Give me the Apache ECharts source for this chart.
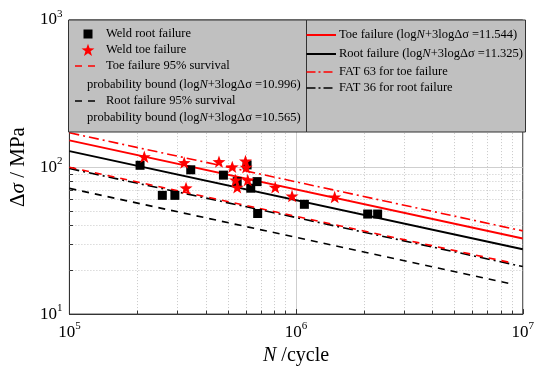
<!DOCTYPE html>
<html><head><meta charset="utf-8">
<script src="https://cdn.jsdelivr.net/npm/echarts@6/dist/echarts.min.js"></script>
<style>html,body{margin:0;padding:0;background:#fff}#c{width:537px;height:371px}</style>
</head><body><div id="c"></div>
<script>
// ---- data ----
const rootN = [205000, 257000, 292000, 343000, 478000, 550000, 608000, 631000, 673000, 677000, 1088000, 2070000, 2290000];
const rootS = [102.8, 64.2, 64.2, 95.8, 88.1, 79.6, 103.4, 71.8, 79.6, 48.3, 55.8, 47.9, 47.9];
const toeN = [214000, 321000, 327000, 457000, 523000, 598000, 602000, 541000, 550000, 612000, 809000, 960000, 1480000];
const toeS = [117.5, 107.2, 72.1, 108.8, 100.3, 110.0, 99.7, 81.6, 72.9, 81.6, 72.9, 63.5, 62.5];
// line end points [N, stress]
const toeMean = [[1e5, 151.8], [1e7, 32.7]];
const rootMean = [[1e5, 128.3], [1e7, 27.6]];
const toe95 = [[1e5, 99.7], [9e6, 22.25]];
const root95 = [[1e5, 71.6], [9e6, 15.98]];
const fat63 = [[1e5, 171.0], [1e7, 36.8]];
const fat36 = [[1e5, 97.7], [1e7, 21.05]];
const xMinor = [2e5,3e5,4e5,5e5,6e5,7e5,8e5,9e5,2e6,3e6,4e6,5e6,6e6,7e6,8e6,9e6];
const yMinor = [20,30,40,50,60,70,80,90,200,300,400,500,600,700,800,900];
const xTicks = [1e5, 1e6, 1e7];
const yTicks = [10, 100, 1000];
const legendLeft = ['Weld root failure', 'Weld toe failure', 'Toe failure 95% survival', 'probability bound (log{i|N}+3logΔσ =10.996)', 'Root failure 95% survival', 'probability bound (log{i|N}+3logΔσ =10.565)'];
const legendRight = ['Toe failure (log{i|N}+3logΔσ =11.544)', 'Root failure (log{i|N}+3logΔσ =11.325)', 'FAT 63 for toe failure', 'FAT 36 for root failure'];

const FF = 'Liberation Serif, Times New Roman, serif';
const starPts = [[0,-10],[2.35,-3.24],[9.51,-3.09],[3.8,1.24],[5.88,8.09],[0,4],[-5.88,8.09],[-3.8,1.24],[-9.51,-3.09],[-2.35,-3.24]];
const star = 'path://M' + starPts.map(p => p[0] + ',' + p[1]).join(' L') + ' Z';
const pair = (a, b) => a.map((v, i) => [v, b[i]]);

const gridLines = [].concat(
  xMinor.map(v => ({xAxis: v})),
  yMinor.map(v => ({yAxis: v}))
);
const minorTicks = [].concat(
  xMinor.map(v => [{coord: [v, 10]}, {coord: [v, 10.55]}]),
  yMinor.map(v => [{coord: [1e5, v]}, {coord: [1.037e5, v]}])
);
const supLabel = v => '{b|10}{s|' + Math.round(Math.log10(v)) + '}';
const labelRich = {
  b: {fontFamily: FF, fontSize: 17, color: '#000'},
  s: {fontFamily: FF, fontSize: 11, color: '#000', padding: [0, 0, 12, 0]}
};
const itxt = size => ({i: {fontFamily: FF, fontSize: size, fontStyle: 'italic', color: '#000'}});

function lineSeries(name, data, color, type, width) {
  return {name, type: 'line', data, symbol: 'none', silent: true,
    lineStyle: {color, type, width, opacity: 1}, z: 3};
}

const L = 68.5, T = 20, MID = 306.5, R = 525.5, B = 132;
const txt = (s, x, y) => ({type: 'text', z: 101, style: {text: s, x, y, fill: '#000', font: '12.5px ' + FF, verticalAlign: 'middle', rich: itxt(12.5)}});
const seg = (x1, x2, y, color, dash, w) => ({type: 'line', z: 101, shape: {x1, y1: y, x2, y2: y}, style: {stroke: color, lineWidth: w || 1.6, lineDash: dash || null}});

const graphic = [
  {type: 'rect', z: 100, shape: {x: L, y: T, width: MID - L, height: B - T}, style: {fill: '#c0c0c0', stroke: '#333', lineWidth: 1}},
  {type: 'rect', z: 100, shape: {x: MID, y: T, width: R - MID, height: B - T}, style: {fill: '#c0c0c0', stroke: '#333', lineWidth: 1}},
  {type: 'rect', z: 101, shape: {x: 83.5, y: 29.5, width: 9, height: 9}, style: {fill: '#000'}},
  {type: 'polygon', z: 101, shape: {points: starPts.map(p => [88 + p[0] * 0.68, 50.5 + p[1] * 0.68])}, style: {fill: '#f00'}},
  txt(legendLeft[0], 106, 34),
  txt(legendLeft[1], 106, 50),
  seg(75, 95, 66, '#f00', [7, 6]),
  txt(legendLeft[2], 106, 66),
  txt(legendLeft[3], 87, 85),
  seg(75, 95, 101, '#000', [7, 6]),
  txt(legendLeft[4], 106, 101),
  txt(legendLeft[5], 87, 118),
  seg(MID, 336, 35, '#f00', null, 2),
  txt(legendRight[0], 339, 35),
  seg(MID, 336, 54, '#000', null, 2),
  txt(legendRight[1], 339, 54),
  seg(MID, 334, 72, '#f00', [9, 3, 2, 3]),
  txt(legendRight[2], 339, 72),
  seg(MID, 334, 88, '#000', [9, 3, 2, 3]),
  txt(legendRight[3], 339, 88)
];

const chart = echarts.init(document.getElementById('c'), null, {renderer: 'canvas'});
chart.setOption({
  animation: false,
  backgroundColor: '#fff',
  grid: {left: L, right: 537 - R, top: T, bottom: 371 - 319, show: true, borderColor: '#333', borderWidth: 1, backgroundColor: 'transparent'},
  xAxis: {
    type: 'log', logBase: 10, min: xTicks[0], max: xTicks[2],
    axisLine: {show: true, onZero: false, lineStyle: {color: '#333'}},
    axisTick: {show: true, inside: true, length: 5, lineStyle: {color: '#333'}},
    splitLine: {show: true, lineStyle: {color: '#cfcfcf', width: 1}},
    axisLabel: {formatter: supLabel, rich: labelRich, margin: 7},
    name: '{i|N} /cycle', nameLocation: 'middle', nameGap: 28,
    nameTextStyle: {fontFamily: FF, fontSize: 20, color: '#000', rich: itxt(20)}
  },
  yAxis: {
    type: 'log', logBase: 10, min: yTicks[0], max: yTicks[2],
    axisLine: {show: true, onZero: false, lineStyle: {color: '#333'}},
    axisTick: {show: true, inside: true, length: 5, lineStyle: {color: '#333'}},
    splitLine: {show: true, lineStyle: {color: '#cfcfcf', width: 1}},
    axisLabel: {formatter: supLabel, rich: labelRich, margin: 7},
    name: 'Δ{i|σ} / MPa', nameLocation: 'middle', nameGap: 32, nameRotate: 90,
    nameTextStyle: {fontFamily: FF, fontSize: 21, color: '#000', rich: itxt(21)}
  },
  graphic,
  series: [
    {name: 'grid', type: 'line', data: [], silent: true, z: 1,
      markLine: {silent: true, symbol: ['none', 'none'], label: {show: false}, z: 1,
        lineStyle: {color: '#c8c8c8', type: [1, 2], width: 1, opacity: 1}, data: gridLines}},
    {name: 'ticks', type: 'line', data: [], silent: true, z: 1,
      markLine: {silent: true, symbol: ['none', 'none'], label: {show: false}, z: 1,
        lineStyle: {color: '#333', type: 'solid', width: 1, opacity: 1}, data: minorTicks}},
    lineSeries('FAT 63 for toe failure', fat63, '#f00', [10, 4, 2, 4], 1.6),
    lineSeries('FAT 36 for root failure', fat36, '#000', [10, 4, 2, 4], 1.6),
    lineSeries('Toe failure 95%', toe95, '#f00', [7, 6], 1.6),
    lineSeries('Root failure 95%', root95, '#000', [7, 6], 1.6),
    lineSeries('Toe failure', toeMean, '#f00', 'solid', 2),
    lineSeries('Root failure', rootMean, '#000', 'solid', 2),
    {name: 'Weld root failure', type: 'scatter', data: pair(rootN, rootS), symbol: 'rect', symbolSize: 9, itemStyle: {color: '#000', opacity: 1}, z: 4},
    {name: 'Weld toe failure', type: 'scatter', data: pair(toeN, toeS), symbol: star, symbolSize: [13, 12.4], itemStyle: {color: '#f00', opacity: 1}, z: 5}
  ]
});
</script></body></html>
